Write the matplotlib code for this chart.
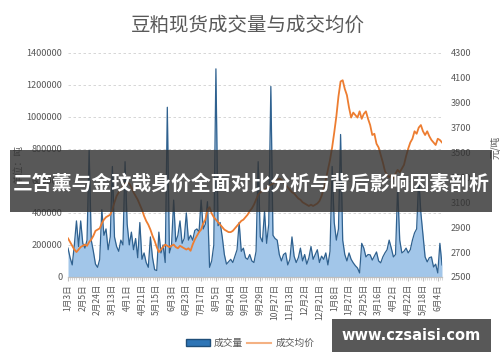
import matplotlib
matplotlib.use('Agg')
import matplotlib.pyplot as plt
from matplotlib.patches import Rectangle, Patch
from matplotlib.lines import Line2D
from matplotlib.ticker import FuncFormatter
import numpy as np

plt.rcParams['font.family'] = ['Noto Sans CJK SC', 'DejaVu Sans']

TITLE = '豆粕现货成交量与成交均价'
BANNER = '三笘薰与金玟哉身价全面对比分析与背后影响因素剖析'
WATERMARK = 'www.czsaisi.com'

# x tick labels, one every 7 points
date_labels = ['1月3日', '2月5日', '2月24日', '3月13日', '4月1日', '4月21日', '5月15日',
               '6月3日', '6月23日', '7月17日', '8月5日', '8月24日', '9月10日', '9月29日',
               '10月27日', '11月13日', '12月2日', '12月21日', '1月8日', '1月27日',
               '2月25日', '3月16日', '4月2日', '4月22日', '5月18日', '6月4日']

# 成交量 (吨)
volume = [
    180000, 120000, 75000, 200000, 350000, 190000, 350000, 210000, 180000, 230000,
    790000, 230000, 160000, 80000, 60000, 110000, 420000, 260000, 300000, 170000,
    250000, 690000, 250000, 190000, 160000, 230000, 200000, 720000, 330000, 200000,
    280000, 170000, 240000, 120000, 340000, 110000, 150000, 90000, 60000, 250000,
    120000, 45000, 40000, 280000, 150000, 200000, 90000, 1060000, 150000, 200000,
    480000, 220000, 260000, 350000, 210000, 240000, 400000, 230000, 260000, 230000,
    290000, 300000, 280000, 480000, 300000, 330000, 470000, 60000, 100000, 200000,
    1300000, 320000, 340000, 250000, 140000, 80000, 95000, 110000, 90000, 130000,
    170000, 340000, 160000, 180000, 120000, 110000, 140000, 100000, 90000, 160000,
    720000, 250000, 220000, 410000, 210000, 330000, 1190000, 260000, 240000, 230000,
    140000, 100000, 140000, 150000, 75000, 110000, 250000, 130000, 90000, 120000,
    180000, 100000, 140000, 80000, 120000, 190000, 110000, 140000, 170000, 90000,
    130000, 110000, 150000, 75000, 160000, 690000, 340000, 230000, 300000, 890000,
    230000, 140000, 100000, 150000, 110000, 88000, 70000, 56000, 25000, 210000,
    180000, 125000, 140000, 138000, 105000, 130000, 156000, 100000, 88000, 125000,
    150000, 170000, 230000, 180000, 125000, 140000, 560000, 230000, 150000, 160000,
    180000, 150000, 170000, 230000, 275000, 300000, 620000, 400000, 260000, 125000,
    94000, 120000, 125000, 62000, 80000, 25000, 210000, 75000,
]

# 成交均价 (元/吨)
price = [
    2810, 2780, 2750, 2720, 2700, 2720, 2740, 2750, 2760, 2750,
    2780, 2800, 2830, 2870, 2880, 2890, 2930, 2960, 2980, 2990,
    3000, 3040, 3100, 3150, 3180, 3200, 3230, 3250, 3260, 3250,
    3220, 3180, 3150, 3120, 3080, 3040, 2990, 2950, 2920, 2880,
    2830, 2790, 2740, 2700, 2720, 2740, 2760, 2750, 2740, 2750,
    2760, 2740, 2730, 2750, 2740, 2730, 2720, 2730, 2710, 2760,
    2800, 2830, 2860, 2880, 2930, 2960, 3040, 3060, 3010, 2980,
    2960, 2940, 2920, 2900, 2880, 2870, 2860, 2860, 2870, 2890,
    2910, 2930, 2950, 2960, 2980, 3000, 3030, 3050, 3080, 3120,
    3160, 3180, 3190, 3200, 3210, 3230, 3240, 3250, 3260, 3280,
    3290, 3280, 3260, 3240, 3220, 3200, 3180, 3170, 3150, 3130,
    3120, 3100, 3090, 3080, 3070, 3080, 3070, 3080, 3090, 3110,
    3150, 3210, 3280, 3360, 3440, 3540, 3660, 3790, 3950, 4070,
    4080, 4010, 3960, 3860, 3780, 3820, 3800, 3780, 3830, 3770,
    3810, 3830, 3770, 3720, 3640, 3650, 3570, 3540, 3480, 3420,
    3350, 3320, 3300, 3320, 3290, 3330, 3360, 3340, 3370, 3400,
    3470, 3530, 3580, 3610, 3670, 3650, 3700, 3720, 3670, 3640,
    3670, 3630, 3600, 3580, 3560, 3610, 3600, 3580,
]

LABEL_STEP = 7


def draw_chart():
    fig = plt.figure(figsize=(5.0, 3.62), dpi=100)
    ax = fig.add_axes([0.136, 0.235, 0.748, 0.619])
    ax2 = ax.twinx()

    x = np.arange(len(volume))

    # volume area
    ax.fill_between(x, 0, volume, color='#a2c6e9', lw=0, zorder=2)
    ax.plot(x, volume, color='#2f618f', lw=0.9, zorder=3)
    ax.set_ylim(0, 1400000)
    ax.set_yticks(np.arange(0, 1400001, 200000))
    ax.yaxis.set_major_formatter(FuncFormatter(lambda v, p: f'{int(v)}'))
    ax.set_xlim(0, len(volume) - 1)
    ax.grid(axis='y', color='#d0d0d0', ls=(0, (3, 3)), lw=0.6)
    ax.set_axisbelow(True)

    # price line
    ax2.plot(x, price, color='#ed7d31', lw=1.3, zorder=4)
    ax2.set_ylim(2500, 4300)
    ax2.set_yticks(np.arange(2500, 4301, 200))

    ax.set_xticks(x[::LABEL_STEP][:len(date_labels)])
    ax.set_xticklabels(date_labels, rotation=90, fontsize=6.2, color='#595959')
    ax.set_xticks(x, minor=True)
    ax.tick_params(axis='x', which='major', length=3, color='#bfbfbf', pad=2)
    ax.tick_params(axis='x', which='minor', length=2, color='#d0d0d0')
    ax.tick_params(axis='y', length=0, labelsize=6.6, labelcolor='#595959', pad=4)
    ax2.tick_params(axis='y', length=0, labelsize=6.6, labelcolor='#595959', pad=6)

    for a in (ax, ax2):
        for side in ('top', 'left', 'right'):
            a.spines[side].set_visible(False)
        a.spines['bottom'].set_color('#bfbfbf')

    ax.set_ylabel('单位：吨', fontsize=7, color='#595959', labelpad=2)
    ax.yaxis.set_label_coords(-0.118, 0.5)
    ax2.set_ylabel('元/吨', fontsize=7, color='#595959', rotation=90)
    ax2.yaxis.set_label_coords(1.128, 0.58)

    fig.text(0.496, 0.93, TITLE, ha='center', va='center', fontsize=14, color='#595959')

    handles = [Patch(facecolor='#2e75b6', edgecolor='#1f4e79'),
               Line2D([0], [0], color='#f4b183', lw=1.5)]
    fig.legend(handles, ['成交量', '成交均价'], loc='center', bbox_to_anchor=(0.5, 0.052),
               ncol=2, frameon=False, fontsize=7, handlelength=2.5, handleheight=0.7,
               columnspacing=0.4, handletextpad=0.4, labelcolor='#595959')

    # overlay banner
    fig.patches.append(Rectangle((0.02, 0.414), 0.964, 0.171, transform=fig.transFigure,
                                 facecolor='#333333', alpha=0.82, zorder=10))
    fig.text(0.502, 0.495, BANNER, ha='center', va='center', fontsize=14.3,
             color='white', fontweight='bold', zorder=11)

    # watermark box
    fig.patches.append(Rectangle((0.664, 0.028), 0.318, 0.091, transform=fig.transFigure,
                                 facecolor='#4a4a4a', alpha=0.92, zorder=10))
    fig.text(0.823, 0.074, WATERMARK, ha='center', va='center', fontsize=10.5,
             color='white', fontweight='bold', family='DejaVu Sans', zorder=11)

    fig.savefig('out.png', dpi=100)
    plt.close(fig)


def main():
    draw_chart()


if __name__ == "__main__":
    main()
